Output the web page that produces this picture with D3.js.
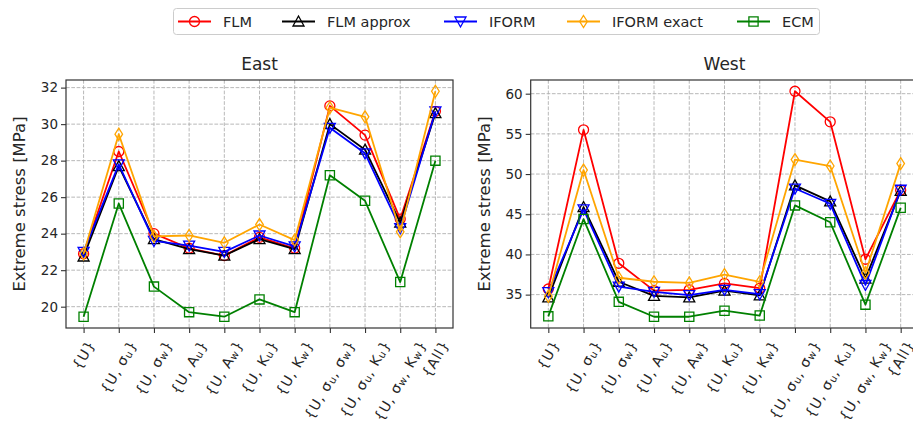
<!DOCTYPE html>
<html>
<head>
<meta charset="utf-8">
<script src="https://cdn.jsdelivr.net/npm/d3@7/dist/d3.min.js"></script>
<style>
  html, body { margin: 0; padding: 0; background: #fff; }
  svg { display: block; font-family: "DejaVu Sans", sans-serif; }
</style>
</head>
<body>
<svg id="chart" width="913" height="423"></svg>
<script>
// Parameter combinations on the x axis ("_x" marks a subscript)
const categories = ["{U}", "{U, σ_u}", "{U, σ_w}", "{U, A_u}", "{U, A_w}", "{U, K_u}",
  "{U, K_w}", "{U, σ_u, σ_w}", "{U, σ_u, K_u}", "{U, σ_w, K_w}", "{All}"];

const seriesNames = ["FLM", "FLM approx", "IFORM", "IFORM exact", "ECM"];

// East site, extreme stress [MPa]
const eastFLM        = [22.9, 28.5, 24.0, 23.2, 22.8, 23.8, 23.2, 31.0, 29.4, 24.8, 30.7];
const eastFLMApprox  = [22.75, 27.7, 23.7, 23.15, 22.8, 23.7, 23.15, 30.0, 28.6, 24.6, 30.6];
const eastIFORM      = [23.0, 27.8, 23.6, 23.35, 23.0, 23.9, 23.3, 29.8, 28.4, 24.3, 30.7];
const eastIFORMExact = [22.9, 29.45, 23.85, 23.9, 23.5, 24.5, 23.65, 30.9, 30.4, 24.1, 31.8];
const eastECM        = [19.45, 25.65, 21.1, 19.7, 19.45, 20.4, 19.7, 27.2, 25.8, 21.35, 28.0];

// West site, extreme stress [MPa]
const westFLM        = [35.7, 55.5, 38.9, 35.5, 35.6, 36.4, 35.8, 60.3, 56.5, 39.4, 48.0];
const westFLMApprox  = [34.65, 45.9, 36.6, 34.85, 34.65, 35.5, 34.9, 48.6, 46.6, 37.0, 47.9];
const westIFORM      = [35.3, 45.6, 36.0, 35.35, 34.95, 35.6, 35.05, 48.2, 46.3, 36.2, 48.05];
const westIFORMExact = [34.8, 50.5, 37.1, 36.6, 36.45, 37.5, 36.6, 51.8, 51.0, 37.7, 51.3];
const westECM        = [32.3, 44.4, 34.1, 32.25, 32.25, 33.0, 32.4, 46.1, 44.0, 33.75, 45.8];

const eastTicks = [20, 22, 24, 26, 28, 30, 32];
const westTicks = [35, 40, 45, 50, 55, 60];

const colors = ["#ff0000", "#000000", "#0000ff", "#ffa500", "#008000"];
const markerKinds = ["circle", "triUp", "triDown", "thinDiamond", "square"];

function markerPath(kind) {
  switch (kind) {
    case "circle": return d3.symbol(d3.symbolCircle, Math.PI * 5 * 5)();
    case "triUp": return "M0,-5.5L-5.5,4.5L5.5,4.5Z";
    case "triDown": return "M0,5.5L-5.5,-4.5L5.5,-4.5Z";
    case "thinDiamond": return "M0,-6L3.8,0L0,6L-3.8,0Z";
    case "square": return "M-4.6,-4.6H4.6V4.6H-4.6Z";
  }
}

const svg = d3.select("#chart");
const textColor = "#262626";

function drawPanel(opts) {
  const { left, right, top, bottom, title, ticks, series } = opts;
  const allVals = series.flat();
  const lo = d3.min(allVals), hi = d3.max(allVals);
  const pad = (hi - lo) * 0.05;
  const x = d3.scaleLinear().domain([-0.5, categories.length - 0.5]).range([left, right]);
  const y = d3.scaleLinear().domain([lo - pad, hi + pad]).range([bottom, top]);

  const g = svg.append("g");
  const clipId = "clip-" + title;
  svg.append("clipPath").attr("id", clipId)
    .append("rect").attr("x", left).attr("y", top - 8)
    .attr("width", right - left).attr("height", bottom - top + 16);

  // grid
  const grid = g.append("g").attr("stroke", "#b0b0b0").attr("stroke-width", 0.9)
    .attr("stroke-dasharray", "3.7,1.6");
  grid.selectAll("line.v").data(categories).join("line")
    .attr("x1", (d, i) => x(i)).attr("x2", (d, i) => x(i))
    .attr("y1", top).attr("y2", bottom);
  grid.selectAll("line.h").data(ticks).join("line")
    .attr("x1", left).attr("x2", right)
    .attr("y1", d => y(d)).attr("y2", d => y(d));

  // lines and markers
  const plot = g.append("g").attr("clip-path", `url(#${clipId})`);
  const line = d3.line().x((d, i) => x(i)).y(d => y(d));
  series.forEach((vals, s) => {
    const sg = plot.append("g");
    sg.append("path").datum(vals).attr("d", line)
      .attr("fill", "none").attr("stroke", colors[s]).attr("stroke-width", 1.8)
      .attr("stroke-linejoin", "round");
    sg.selectAll("path.m").data(vals).join("path")
      .attr("class", "m")
      .attr("transform", (d, i) => `translate(${x(i)},${y(d)})`)
      .attr("d", markerPath(markerKinds[s]))
      .attr("fill", "none").attr("stroke", colors[s]).attr("stroke-width", 1.3);
  });

  // spines
  g.append("rect").attr("x", left).attr("y", top)
    .attr("width", right - left).attr("height", bottom - top)
    .attr("fill", "none").attr("stroke", "#333").attr("stroke-width", 1.2);

  // y axis
  const yAxis = d3.axisLeft(y).tickValues(ticks).tickSize(5).tickPadding(3);
  const ya = g.append("g").attr("transform", `translate(${left},0)`).call(yAxis);
  ya.select(".domain").remove();
  ya.selectAll(".tick line").attr("stroke", "#333").attr("stroke-width", 1.1);
  ya.selectAll(".tick text").attr("fill", textColor).attr("font-size", 13.5)
    .attr("font-family", "DejaVu Sans");

  // x axis ticks
  const xAxis = d3.axisBottom(x).tickValues(d3.range(categories.length)).tickSize(5).tickFormat("");
  const xa = g.append("g").attr("transform", `translate(0,${bottom})`).call(xAxis);
  xa.select(".domain").remove();
  xa.selectAll(".tick line").attr("stroke", "#333").attr("stroke-width", 1.1);

  // rotated x tick labels, rotated box centred under each tick
  const fs = 14;
  const ang = 60 * Math.PI / 180;
  categories.forEach((lab, i) => {
    const t = g.append("text").attr("font-size", fs).attr("fill", textColor)
      .attr("letter-spacing", 0.9)
      .attr("text-anchor", "middle").attr("dominant-baseline", "central");
    const parts = lab.split(/(_\w)/);
    parts.forEach(p => {
      if (p.startsWith("_")) {
        t.append("tspan").text(p.slice(1)).attr("font-size", fs * 0.72)
          .attr("baseline-shift", "-20%");
      } else if (p.length) {
        t.append("tspan").text(p);
      }
    });
    const w = t.node().getComputedTextLength();
    const h = fs * 0.95;
    const bh = w * Math.sin(ang) + h * Math.cos(ang);
    const cx = x(i), cy = bottom + 10 + bh / 2;
    t.attr("transform", `translate(${cx},${cy}) rotate(-60)`);
  });

  // title
  g.append("text").attr("x", (left + right) / 2).attr("y", top - 10)
    .attr("text-anchor", "middle").attr("font-size", 17).attr("fill", textColor)
    .text(title);

  // y label
  g.append("text")
    .attr("transform", `translate(${left - 41},${(top + bottom) / 2}) rotate(-90)`)
    .attr("text-anchor", "middle").attr("font-size", 16.5).attr("fill", textColor)
    .text("Extreme stress [MPa]");
}

drawPanel({
  left: 66, right: 453, top: 80, bottom: 328, title: "East", ticks: eastTicks,
  series: [eastFLM, eastFLMApprox, eastIFORM, eastIFORMExact, eastECM]
});
drawPanel({
  left: 530.7, right: 918.3, top: 80, bottom: 328, title: "West", ticks: westTicks,
  series: [westFLM, westFLMApprox, westIFORM, westIFORMExact, westECM]
});

// legend
const legend = svg.append("g");
legend.append("rect").attr("x", 173.5).attr("y", 8.5).attr("width", 646).attr("height", 26)
  .attr("rx", 3).attr("fill", "#fff").attr("stroke", "#cccccc").attr("stroke-width", 1);
const legendX = [178, 282, 444, 567, 737];
seriesNames.forEach((name, s) => {
  const lx = legendX[s], ly = 21.5;
  legend.append("line").attr("x1", lx).attr("x2", lx + 33).attr("y1", ly).attr("y2", ly)
    .attr("stroke", colors[s]).attr("stroke-width", 1.8);
  legend.append("path").attr("transform", `translate(${lx + 16.5},${ly})`)
    .attr("d", markerPath(markerKinds[s]))
    .attr("fill", "none").attr("stroke", colors[s]).attr("stroke-width", 1.3);
  legend.append("text").attr("x", lx + 45).attr("y", ly).attr("dominant-baseline", "central")
    .attr("font-size", 14.5).attr("fill", textColor).text(name);
});
</script>
</body>
</html>
